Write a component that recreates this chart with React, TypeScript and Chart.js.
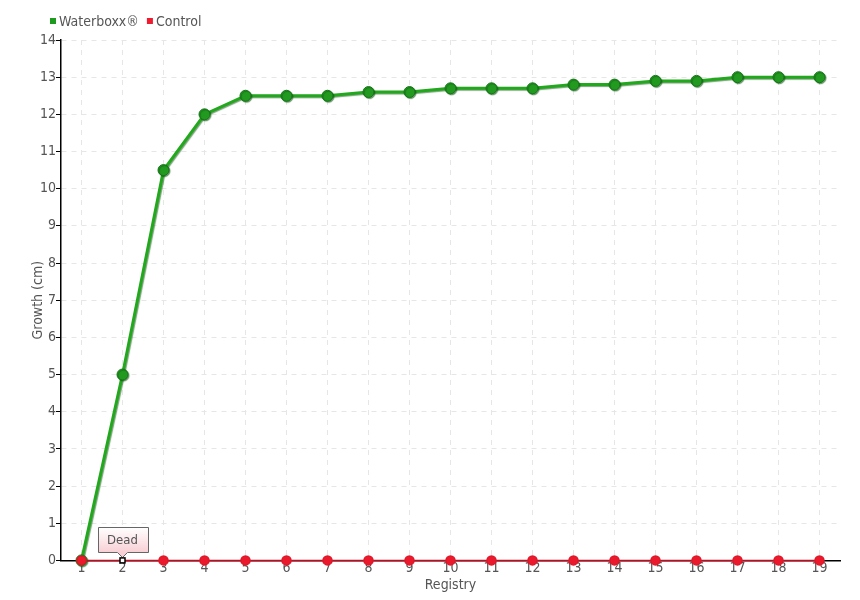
import React, { useEffect, useRef } from "react";
import { Chart, registerables } from "chart.js";
Chart.register(...registerables);

const registry = ["1","2","3","4","5","6","7","8","9","10","11","12","13","14","15","16","17","18","19"];
const waterboxx = [0, 5, 10.5, 12, 12.5, 12.5, 12.5, 12.6, 12.6, 12.7, 12.7, 12.7, 12.8, 12.8, 12.9, 12.9, 13, 13, 13];
const control = [0,0,0,0,0,0,0,0,0,0,0,0,0,0,0,0,0,0,0];
const deadIndex = 1;
const deadLabel = "Dead";

const FONT = "'DejaVu Sans Condensed', 'Liberation Sans Narrow', 'Roboto', sans-serif";

const legendPlugin = {
  id: "customLegend",
  afterDraw(chart: any) {
    const ctx = chart.ctx;
    ctx.save();
    ctx.font = "14px " + FONT;
    ctx.textBaseline = "middle";
    ctx.textAlign = "left";
    let x = 50;
    const y = 21;
    chart.data.datasets.forEach((ds: any) => {
      ctx.fillStyle = ds.backgroundColor;
      ctx.fillRect(x, y - 3, 6, 6);
      x += 9;
      ctx.fillStyle = "#555";
      ctx.fillText(ds.label, x, y + 1);
      x += ctx.measureText(ds.label).width + 8;
    });
    ctx.restore();
  },
};

const deadPlugin = {
  id: "deadNote",
  afterDatasetsDraw(chart: any) {
    const meta = chart.getDatasetMeta(1);
    const pt = meta.data[deadIndex];
    if (!pt) return;
    const ctx = chart.ctx;
    const x = pt.x, y = pt.y;
    ctx.save();
    const w = 50, h = 25;
    const bx = Math.round(x - w / 2) + 0.5, by = Math.round(y - 33) + 0.5;
    const g = ctx.createLinearGradient(0, by, 0, by + h);
    g.addColorStop(0, "#ffffff");
    g.addColorStop(1, "#f8cfd4");
    ctx.beginPath();
    ctx.moveTo(bx, by);
    ctx.lineTo(bx + w, by);
    ctx.lineTo(bx + w, by + h);
    ctx.lineTo(x + 5, by + h);
    ctx.lineTo(x, by + h + 5);
    ctx.lineTo(x - 5, by + h);
    ctx.lineTo(bx, by + h);
    ctx.closePath();
    ctx.fillStyle = g;
    ctx.fill();
    ctx.strokeStyle = "#666";
    ctx.lineWidth = 1;
    ctx.stroke();
    ctx.fillStyle = "#555";
    ctx.font = "13px " + FONT;
    ctx.textAlign = "center";
    ctx.textBaseline = "middle";
    ctx.fillText(deadLabel, x, by + h / 2 + 1);
    ctx.fillStyle = "#fff";
    ctx.strokeStyle = "#000";
    ctx.lineWidth = 1.5;
    ctx.fillRect(x - 2.5, y - 2.5, 5, 5);
    ctx.strokeRect(x - 2.5, y - 2.5, 5, 5);
    ctx.restore();
  },
};

const shadowPlugin = {
  id: "lineShadow",
  beforeDatasetDraw(chart: any, args: any) {
    if (args.index !== 0) return;
    const ctx = chart.ctx;
    ctx.save();
    ctx.shadowColor = "rgba(10,80,10,0.55)";
    ctx.shadowBlur = 1;
    ctx.shadowOffsetX = 1;
    ctx.shadowOffsetY = 1;
  },
  afterDatasetDraw(chart: any, args: any) {
    if (args.index !== 0) return;
    chart.ctx.restore();
  },
};

export default function App() {
  const ref = useRef<HTMLCanvasElement>(null);
  useEffect(() => {
    document.body.style.margin = "0";
    const c = new Chart(ref.current!, {
      type: "line",
      data: {
        labels: registry,
        datasets: [
          {
            label: "Waterboxx®",
            data: waterboxx,
            borderColor: "#22a81c",
            backgroundColor: "#1e9a1e",
            pointBackgroundColor: "#219a1f",
            pointBorderColor: "#17731a",
            pointBorderWidth: 1,
            pointRadius: 5.5,
            borderWidth: 3,
            tension: 0,
            clip: false,
            order: 1,
          },
          {
            label: "Control",
            data: control,
            borderColor: "#d0051c",
            backgroundColor: "#ee1c2e",
            pointBackgroundColor: control.map((_, i) => (i === deadIndex ? "rgba(0,0,0,0)" : "#ea1a2c")),
            pointBorderColor: control.map((_, i) => (i === deadIndex ? "rgba(0,0,0,0)" : "#e01628")),
            pointRadius: 4.5,
            borderWidth: 1.5,
            tension: 0,
            clip: false,
            order: 0,
          },
        ],
      },
      options: {
        animation: false,
        responsive: false,
        maintainAspectRatio: false,
        layout: { padding: { left: 30, right: 20, top: 40, bottom: 6 } },
        plugins: {
          legend: { display: false },
          tooltip: { enabled: false },
        },
        scales: {
          x: {
            offset: true,
            grid: {
              color: "#e6e6e6",
              drawTicks: false,
              offset: false,
            },
            border: { color: "#000", width: 1.5, dash: [5, 5] },
            ticks: { color: "#555", font: { family: FONT, size: 14 }, padding: 0 },
            title: { display: true, text: "Registry", color: "#555", font: { family: FONT, size: 14 }, padding: 0 },
          },
          y: {
            min: 0,
            max: 14,
            afterFit(scale: any) { scale.width = 31; },
            grid: { color: "#e6e6e6", tickLength: 5, tickColor: "#000" },
            border: { color: "#000", width: 1.5, dash: [5, 5] },
            ticks: { stepSize: 1, color: "#555", font: { family: FONT, size: 14 }, padding: 0 },
            title: { display: true, text: "Growth (cm)", color: "#555", font: { family: FONT, size: 14 }, padding: 0 },
          },
        },
      },
      plugins: [shadowPlugin, deadPlugin, legendPlugin],
    } as any);
    return () => c.destroy();
  }, []);
  return <canvas ref={ref} width={860} height={600} style={{ display: "block" }} />;
}
